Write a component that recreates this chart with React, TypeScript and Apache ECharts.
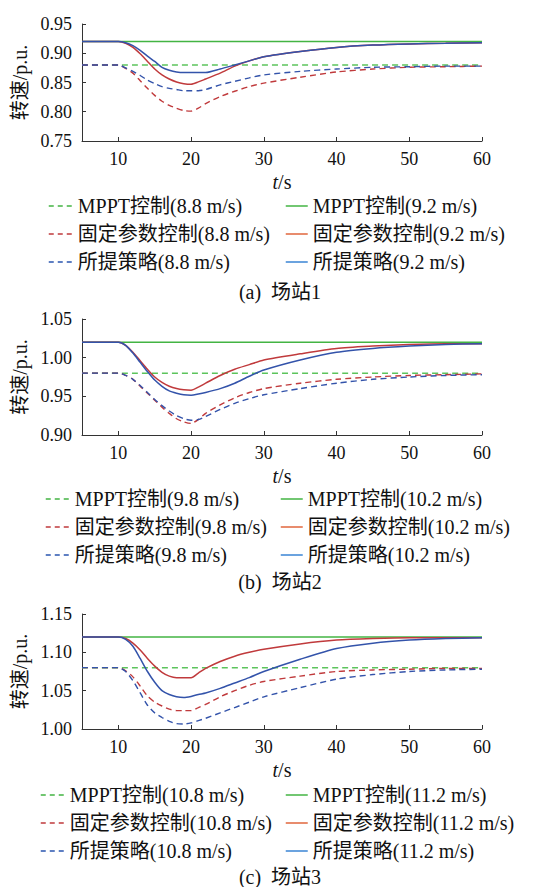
import React, { useEffect, useRef } from "react";
import * as echarts from "echarts";

// time axis (s)
const T = [5, 10, 11, 12, 13, 14, 15, 16, 17, 18, 19, 20, 21, 22, 24, 26, 28, 30, 35, 40, 45, 50, 55, 60];
const xTicks = [10, 20, 30, 40, 50, 60];

// Station 1
const s1Speeds = ["8.8", "9.2"];
const s1Mppt = [0.88, 0.92];
const s1FixedLow = [0.88, 0.88, 0.874, 0.866, 0.853, 0.84, 0.828, 0.818, 0.811, 0.806, 0.802, 0.801, 0.806, 0.814, 0.826, 0.835, 0.843, 0.849, 0.859, 0.868, 0.873, 0.876, 0.877, 0.878];
const s1PropLow = [0.88, 0.88, 0.875, 0.869, 0.862, 0.854, 0.848, 0.843, 0.84, 0.838, 0.836, 0.836, 0.836, 0.838, 0.846, 0.852, 0.858, 0.863, 0.869, 0.873, 0.876, 0.877, 0.878, 0.878];
const s1FixedHigh = [0.92, 0.92, 0.917, 0.91, 0.899, 0.886, 0.873, 0.863, 0.856, 0.851, 0.848, 0.847, 0.851, 0.856, 0.866, 0.878, 0.887, 0.894, 0.903, 0.91, 0.914, 0.916, 0.917, 0.918];
const s1PropHigh = [0.92, 0.92, 0.918, 0.913, 0.905, 0.895, 0.886, 0.876, 0.871, 0.868, 0.867, 0.867, 0.867, 0.867, 0.873, 0.88, 0.887, 0.894, 0.903, 0.91, 0.914, 0.916, 0.917, 0.918];

// Station 2
const s2Speeds = ["9.8", "10.2"];
const s2Mppt = [0.98, 1.02];
const s2FixedLow = [0.98, 0.98, 0.977, 0.972, 0.963, 0.954, 0.945, 0.936, 0.928, 0.921, 0.917, 0.915, 0.92, 0.928, 0.939, 0.948, 0.955, 0.96, 0.967, 0.972, 0.975, 0.977, 0.978, 0.979];
const s2PropLow = [0.98, 0.98, 0.977, 0.972, 0.964, 0.955, 0.946, 0.938, 0.931, 0.925, 0.921, 0.919, 0.92, 0.924, 0.933, 0.941, 0.947, 0.952, 0.96, 0.967, 0.972, 0.975, 0.977, 0.978];
const s2FixedHigh = [1.02, 1.02, 1.016, 1.007, 0.996, 0.985, 0.975, 0.968, 0.963, 0.96, 0.9585, 0.958, 0.962, 0.967, 0.977, 0.985, 0.991, 0.997, 1.005, 1.012, 1.015, 1.017, 1.018, 1.018];
const s2PropHigh = [1.02, 1.02, 1.016, 1.006, 0.994, 0.982, 0.971, 0.963, 0.957, 0.954, 0.952, 0.9515, 0.953, 0.955, 0.96, 0.967, 0.976, 0.984, 0.997, 1.007, 1.012, 1.015, 1.017, 1.018];

// Station 3
const s3Speeds = ["10.8", "11.2"];
const s3Mppt = [1.08, 1.12];
const s3FixedLow = [1.08, 1.08, 1.076, 1.068, 1.056, 1.043, 1.035, 1.03, 1.026, 1.024, 1.024, 1.024, 1.028, 1.032, 1.042, 1.05, 1.057, 1.062, 1.069, 1.075, 1.077, 1.078, 1.079, 1.079];
const s3PropLow = [1.08, 1.08, 1.075, 1.063, 1.047, 1.031, 1.021, 1.015, 1.01, 1.007, 1.0066, 1.008, 1.011, 1.014, 1.021, 1.028, 1.035, 1.042, 1.054, 1.065, 1.071, 1.075, 1.077, 1.078];
const s3FixedHigh = [1.12, 1.12, 1.118, 1.112, 1.103, 1.092, 1.082, 1.074, 1.069, 1.067, 1.067, 1.067, 1.073, 1.079, 1.088, 1.095, 1.1, 1.104, 1.111, 1.116, 1.118, 1.119, 1.119, 1.119];
const s3PropHigh = [1.12, 1.12, 1.117, 1.108, 1.092, 1.075, 1.061, 1.05, 1.045, 1.042, 1.041, 1.0425, 1.045, 1.047, 1.053, 1.06, 1.067, 1.075, 1.091, 1.105, 1.112, 1.116, 1.118, 1.119];

const yRanges = [
  [0.75, 0.95],
  [0.9, 1.05],
  [1.0, 1.15],
];
const captions = ["(a)  场站1", "(b)  场站2", "(c)  场站3"];

const FONT = "Liberation Serif, Noto Sans CJK SC, serif";
const C_GREEN = "#43b443";
const C_GREEN_D = "#5cc45c";
const C_RED = "#c03a3c";
const C_BLUE = "#3353aa";
const L_RED_SOLID = "#e0663c";
const L_BLUE_SOLID = "#3a85d5";
const L_BLUE_D = "#2a55b0";
const HIDDEN = { color: "rgba(0,0,0,0)", borderWidth: 0, opacity: 0 };

const layout = [
  { top: 24, height: 117, legendTop: 196, legL: 48, legR: 285, capY: 292 },
  { top: 319, height: 116, legendTop: 489, legL: 45, legR: 280, capY: 582 },
  { top: 614, height: 115, legendTop: 785, legL: 40, legR: 285, capY: 877 },
];

const zip = (vals: number[]) => T.map((t, i) => [t, vals[i]]);

export default function App() {
  const ref = useRef<HTMLDivElement>(null);
  useEffect(() => {
    if (!ref.current) return;
    const chart = echarts.init(ref.current, null, { renderer: "svg" });
    const panels = [
      { speeds: s1Speeds, mppt: s1Mppt, fl: s1FixedLow, pl: s1PropLow, fh: s1FixedHigh, ph: s1PropHigh },
      { speeds: s2Speeds, mppt: s2Mppt, fl: s2FixedLow, pl: s2PropLow, fh: s2FixedHigh, ph: s2PropHigh },
      { speeds: s3Speeds, mppt: s3Mppt, fl: s3FixedLow, pl: s3PropLow, fh: s3FixedHigh, ph: s3PropHigh },
    ];
    const grids: any[] = [];
    const xAxes: any[] = [];
    const yAxes: any[] = [];
    const series: any[] = [];
    const legends: any[] = [];
    const graphics: any[] = [];
    const dashed = [6, 4];
    panels.forEach((p, k) => {
      const L = layout[k];
      grids.push({ left: 82, right: 58, top: L.top, height: L.height });
      xAxes.push({
        gridIndex: k,
        type: "value",
        min: 5,
        max: 60,
        name: "{i|t}/s",
        nameLocation: "middle",
        nameGap: 31,
        nameTextStyle: {
          fontSize: 20,
          fontFamily: FONT,
          color: "#111",
          rich: { i: { fontStyle: "italic", fontSize: 20, fontFamily: FONT, color: "#111" } },
        },
        axisLine: { lineStyle: { color: "#333", width: 1 } },
        axisTick: { inside: true, length: 4, customValues: xTicks, lineStyle: { color: "#333" } },
        axisLabel: { customValues: xTicks, margin: 9, fontSize: 18, fontFamily: FONT, color: "#111" },
        splitLine: { show: false },
      });
      yAxes.push({
        gridIndex: k,
        type: "value",
        min: yRanges[k][0],
        max: yRanges[k][1],
        interval: 0.05,
        name: "转速/p.u.",
        nameLocation: "middle",
        nameGap: 47,
        nameTextStyle: { fontSize: 20, fontFamily: FONT, color: "#111" },
        axisLine: { show: true, lineStyle: { color: "#333", width: 1 } },
        axisTick: { show: true, inside: true, length: 4, lineStyle: { color: "#333" } },
        axisLabel: {
          margin: 10,
          fontSize: 18,
          fontFamily: FONT,
          color: "#111",
          formatter: (v: number) => v.toFixed(2),
        },
        splitLine: { show: false },
      });
      const [lo, hi] = p.speeds;
      const nMl = `MPPT控制(${lo} m/s)`;
      const nMh = `MPPT控制(${hi} m/s)`;
      const nFl = `固定参数控制(${lo} m/s)`;
      const nFh = `固定参数控制(${hi} m/s)`;
      const nPl = `所提策略(${lo} m/s)`;
      const nPh = `所提策略(${hi} m/s)`;
      const base = { type: "line", xAxisIndex: k, yAxisIndex: k, symbol: "none", showSymbol: false, smooth: 0.25 };
      series.push(
        { ...base, name: nMh, data: [[5, p.mppt[1]], [60, p.mppt[1]]], lineStyle: { color: C_GREEN, width: 1.4 }, itemStyle: { color: C_GREEN } },
        { ...base, name: nMl, data: [[5, p.mppt[0]], [60, p.mppt[0]]], lineStyle: { color: C_GREEN_D, width: 1.5, type: dashed }, itemStyle: { color: C_GREEN_D } },
        { ...base, name: nFl, data: zip(p.fl), lineStyle: { color: C_RED, width: 1.4, type: dashed }, itemStyle: { color: C_RED } },
        { ...base, name: nFh, data: zip(p.fh), lineStyle: { color: C_RED, width: 1.5 }, itemStyle: { color: C_RED } },
        { ...base, name: nPl, data: zip(p.pl), lineStyle: { color: C_BLUE, width: 1.4, type: dashed }, itemStyle: { color: C_BLUE } },
        { ...base, name: nPh, data: zip(p.ph), lineStyle: { color: C_BLUE, width: 1.5 }, itemStyle: { color: C_BLUE } }
      );
      const legCommon = {
        orient: "vertical",
        top: L.legendTop,
        padding: 0,
        itemGap: 8,
        itemWidth: 24,
        itemHeight: 14,
        selectedMode: false,
        itemStyle: HIDDEN,
        textStyle: { fontSize: 20, lineHeight: 20, fontFamily: FONT, color: "#111" },
      };
      legends.push(
        {
          ...legCommon,
          left: L.legL,
          data: [
            { name: nMl, itemStyle: HIDDEN, lineStyle: { color: C_GREEN, type: [5, 4], width: 1.5 } },
            { name: nFl, itemStyle: HIDDEN, lineStyle: { color: C_RED, type: [5, 4], width: 1.5 } },
            { name: nPl, itemStyle: HIDDEN, lineStyle: { color: L_BLUE_D, type: [5, 4], width: 1.5 } },
          ],
        },
        {
          ...legCommon,
          left: L.legR,
          itemWidth: 22,
          data: [
            { name: nMh, itemStyle: HIDDEN, lineStyle: { color: C_GREEN, width: 1.5 } },
            { name: nFh, itemStyle: HIDDEN, lineStyle: { color: L_RED_SOLID, width: 1.5 } },
            { name: nPh, itemStyle: HIDDEN, lineStyle: { color: L_BLUE_SOLID, width: 1.5 } },
          ],
        }
      );
      graphics.push({
        type: "text",
        x: 280,
        y: L.capY,
        style: {
          text: captions[k],
          fontSize: 20,
          fontFamily: FONT,
          fill: "#111",
          align: "center",
          verticalAlign: "middle",
        },
      });
    });
    chart.setOption({
      animation: false,
      backgroundColor: "#fff",
      grid: grids,
      xAxis: xAxes,
      yAxis: yAxes,
      legend: legends,
      series,
      graphic: graphics,
    });
    return () => chart.dispose();
  }, []);
  return (
    <div
      ref={ref}
      style={{ position: "absolute", left: 0, top: 0, width: 540, height: 887, background: "#fff" }}
    />
  );
}
